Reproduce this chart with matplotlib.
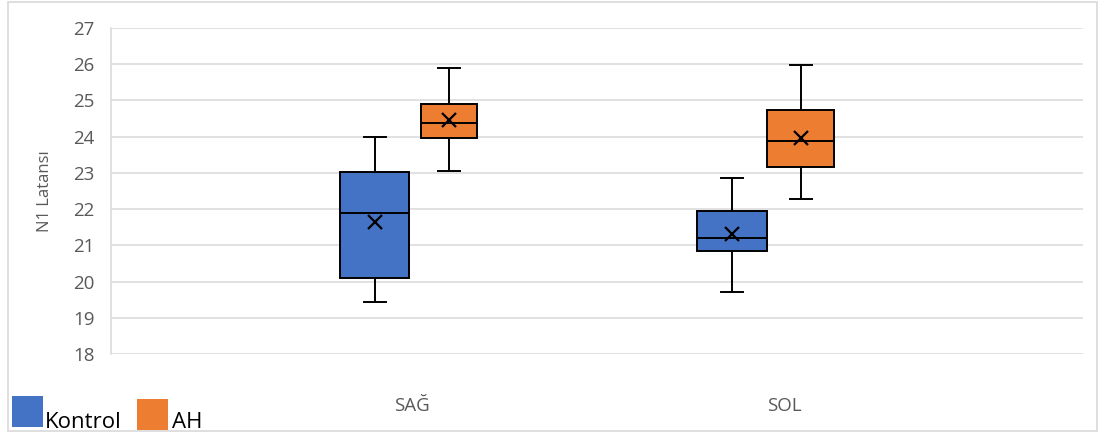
import matplotlib
matplotlib.use("Agg")
import matplotlib.pyplot as plt
from matplotlib.patches import Rectangle

plt.rcParams['font.family'] = ['Open Sans', 'DejaVu Sans']

categories = ['SAĞ', 'SOL']
series = ['Kontrol', 'AH']
colors = ['#4472C4', '#ED7D31']

# per category, per series: whislo, q1, median, q3, whishi, mean
kontrol_stats = [
    [19.44, 20.10, 21.88, 23.03, 23.98, 21.65],
    [19.72, 20.83, 21.20, 21.96, 22.87, 21.32],
]
ah_stats = [
    [23.04, 23.97, 24.37, 24.90, 25.90, 24.45],
    [22.27, 23.15, 23.87, 24.73, 25.97, 23.95],
]

# box centres relative to category centre, and box widths (category units)
offsets = [[-0.10, 0.10], [-0.14, 0.045]]
widths = [[0.185, 0.15], [0.19, 0.18]]

fig = plt.figure(figsize=(10.99, 4.36), dpi=100)
ax = fig.add_axes([111 / 1099, 1 - 354 / 436, (1083 - 111) / 1099, (354 - 28) / 436])

grey = '#D9D9D9'
for c, cat in enumerate(categories):
    for s, st in enumerate([kontrol_stats[c], ah_stats[c]]):
        lo, q1, med, q3, hi, mean = st
        d = dict(whislo=lo, q1=q1, med=med, q3=q3, whishi=hi, mean=mean, fliers=[])
        ax.bxp([d], positions=[c + offsets[c][s]], widths=[widths[c][s]],
               capwidths=[0.06], patch_artist=True, showmeans=True, showfliers=False,
               boxprops=dict(facecolor=colors[s], edgecolor='black', linewidth=1.4),
               medianprops=dict(color='black', linewidth=1.4),
               whiskerprops=dict(color='black', linewidth=1.4),
               capprops=dict(color='black', linewidth=1.4),
               meanprops=dict(marker='x', markeredgecolor='black', markersize=10,
                              markeredgewidth=1.6),
               zorder=3)

ax.set_ylim(18, 27)
ax.set_yticks(range(18, 28))
ax.set_xlim(-0.809, 1.804)
ax.set_xticks([0, 1.0])
ax.set_xticklabels(categories)
ax.yaxis.grid(True, color=grey, linewidth=1.1)
ax.set_axisbelow(True)
for sp in ['top', 'right', 'bottom']:
    ax.spines[sp].set_visible(False)
ax.spines['left'].set_color(grey)
ax.spines['left'].set_linewidth(1.1)
ax.tick_params(axis='both', length=0, colors='#595959', labelsize=13.5)
ax.tick_params(axis='x', pad=31)
ax.tick_params(axis='y', pad=12)
ax.set_ylabel('N1 Latansı', color='#595959', fontsize=12, labelpad=14)

# outer chart border
fig.patches.append(Rectangle((8 / 1099, 1 - 431 / 436), (1097 - 8) / 1099, (431 - 2) / 436,
                             transform=fig.transFigure, fill=False, edgecolor=grey,
                             linewidth=1.2))

# legend at bottom left
leg_x = [12, 137]
leg_y = [396, 399]
txt_x = [45, 172]
for s, name in enumerate(series):
    fig.patches.append(Rectangle((leg_x[s] / 1099, 1 - (leg_y[s] + 31) / 436), 31 / 1099, 31 / 436,
                                 transform=fig.transFigure, facecolor=colors[s],
                                 edgecolor='none'))
    fig.text(txt_x[s] / 1099, 1 - 428 / 436, name, fontsize=16, color='black',
             ha='left', va='baseline')

fig.savefig('out.png', dpi=100)
